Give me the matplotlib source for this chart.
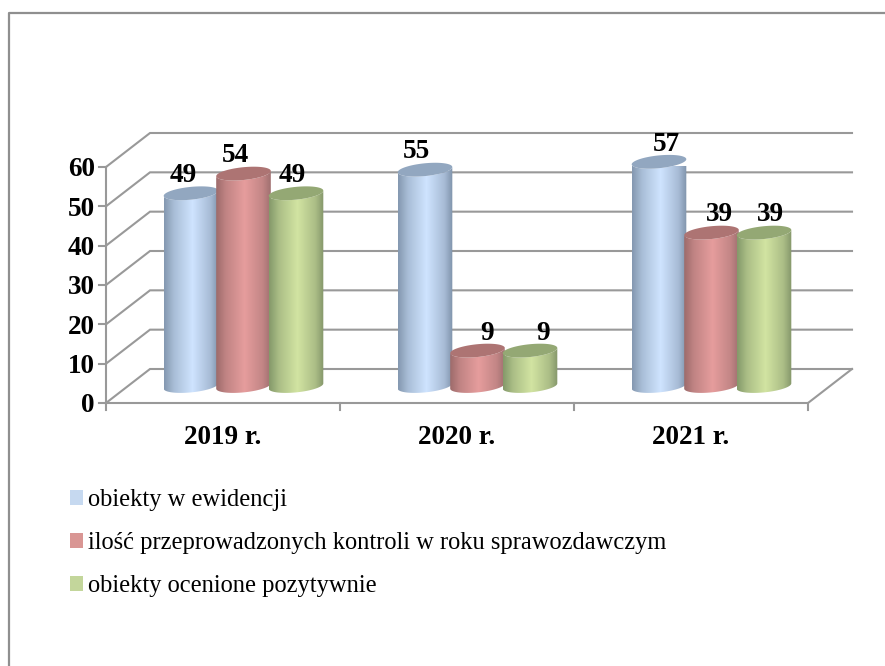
import numpy as np
import matplotlib
matplotlib.use("Agg")
import matplotlib.pyplot as plt
from matplotlib.colors import LinearSegmentedColormap
from matplotlib.lines import Line2D
from matplotlib.patches import Patch, PathPatch
from matplotlib.path import Path

categories = ["2019 r.", "2020 r.", "2021 r."]
series_names = ["obiekty w ewidencji",
                "ilość przeprowadzonych kontroli w roku sprawozdawczym",
                "obiekty ocenione pozytywnie"]
ewidencja = [49, 55, 57]
kontrole = [54, 9, 39]
pozytywne = [49, 9, 39]
y_ticks = [0, 10, 20, 30, 40, 50, 60]

W, H, DPI = 885, 666, 100
L, R, B, T = 106, 808, 403, 167       # front plot box in pixels
DX, DY = 44, 34                       # depth offset of the back wall in pixels
plt.rcParams["font.family"] = ["Liberation Serif", "DejaVu Serif"]

fig = plt.figure(figsize=(W / DPI, H / DPI), dpi=DPI, facecolor="white")
ax = fig.add_axes([L / W, 1 - B / H, (R - L) / W, (B - T) / H])
ax.set_xlim(0, 3)
ax.set_ylim(0, 60)
ax.axis("off")
px = 3 / (R - L)      # data x per pixel
py = 60 / (B - T)     # data y per pixel
ddx, ddy = DX * px, DY * py
GRID = "#999999"
BOLD = 19.5

# outer chart frame: only top and left edges are visible
fig.add_artist(Line2D([8.5 / W, 8.5 / W, 1], [0, 1 - 13 / H, 1 - 13 / H],
                      color="#8f8f8f", lw=1.6, transform=fig.transFigure))

# walls, floor, ticks
for v in y_ticks:
    ax.plot([0, ddx, 3 + ddx], [v, v + ddy, v + ddy], color=GRID, lw=1.5,
            clip_on=False, solid_joinstyle="miter", zorder=1)
    ax.plot([-7 * px, 0], [v, v], color=GRID, lw=1.5, clip_on=False, zorder=1)
    ax.text(-11 * px, v, str(v), ha="right", va="center_baseline",
            fontsize=BOLD, fontweight="bold", color="black")
ax.plot([0, 0], [0, 60], color=GRID, lw=1.5, clip_on=False, zorder=1)
ax.plot([0, 3, 3 + ddx], [0, 0, ddy], color=GRID, lw=1.5, clip_on=False, zorder=1)
for i in range(4):
    ax.plot([i, i], [0, -7 * py], color=GRID, lw=1.5, clip_on=False, zorder=1)
for i, c in enumerate(categories):
    ax.text(i + 0.5, -32 * py, c, ha="center", va="center_baseline",
            fontsize=BOLD, fontweight="bold", color="black")

# cylinders
palettes = [("#8498b0", "#cfe4ff", "#7f93ab", "#92a7c0"),
            ("#9d6b6b", "#e69d9d", "#a07070", "#ad7473"),
            ("#84996a", "#d2e4a2", "#84966a", "#94a874")]
series = [ewidencja, kontrole, pozytywne]
BAR = 52.5 * px
A, BH, K = 27.3 * px, 6.4 * py, 2.6 * py   # ellipse half-width, half-height, tilt


def ellipse(cx, cy, t):
    return cx + A * np.cos(t), cy + BH * np.sin(t) + K * np.cos(t)


def blend(c1, c2):
    return "#" + "".join(
        f"{(int(c1[i:i+2], 16) + int(c2[i:i+2], 16)) // 2:02x}" for i in (1, 3, 5))


t_low = np.linspace(np.pi, 2 * np.pi, 60)
base = 0.5 * ddy
zo = 3
for g in range(3):
    for s, vals in enumerate(series):
        cx = g + 0.5 + 0.5 * ddx + (s - 1) * BAR - 1.5 * px
        v = vals[g]
        edge_l, mid, edge_r, top = palettes[s]
        cmap = LinearSegmentedColormap.from_list(
            "c", [(0, edge_l), (0.18, blend(edge_l, mid)), (0.52, mid),
                  (0.85, blend(edge_r, mid)), (1, edge_r)])
        xb, yb = ellipse(cx, base, t_low)
        xt, yt = ellipse(cx, base + v, t_low[::-1])
        verts = np.column_stack([np.r_[xb, xt], np.r_[yb, yt]])
        body = PathPatch(Path(np.vstack([verts, verts[0]])), transform=ax.transData,
                         fc="none", ec="none")
        ax.add_patch(body)
        im = ax.imshow(np.linspace(0, 1, 128)[None, :], cmap=cmap, aspect="auto",
                       extent=[cx - A, cx + A, base - 10 * py, base + v + 10 * py],
                       zorder=zo)
        im.set_clip_path(body)
        im.set_clip_box(None)
        xe, ye = ellipse(cx, base + v, np.linspace(0, 2 * np.pi, 120))
        ax.fill(xe, ye, color=top, lw=0, zorder=zo + 0.5, clip_on=False)
        zo += 1
ax.set_xlim(0, 3)
ax.set_ylim(0, 60)

# data labels, with the manual placements of the original
nudges = [[(-8, 21), (-8, 21), (-4, 21)],
          [(-9, 21), (10, 20), (13, 20)],
          [(7, 20), (8, 21), (6, 21)]]
for g in range(3):
    for s, vals in enumerate(series):
        cx = g + 0.5 + 0.5 * ddx + (s - 1) * BAR - 1.5 * px
        nx, ny = nudges[g][s]
        ax.annotate(str(vals[g]), (cx, base + vals[g]),
                    xytext=(nx * 72 / DPI, ny * 72 / DPI), textcoords="offset points",
                    ha="center", va="center_baseline", fontsize=BOLD, fontweight="bold",
                    color="black", zorder=100, annotation_clip=False)

# legend
colors = ["#c6d9f0", "#d99694", "#c3d69b"]
handles = [Patch(fc=c, ec="none", label=n) for c, n in zip(colors, series_names)]
fig.legend(handles=handles, loc="upper left", bbox_to_anchor=(70 / W, 1 - 489 / H),
           frameon=False, fontsize=17.65, handlelength=0.53, handleheight=0.53,
           handletextpad=0.2, labelspacing=0.86, borderpad=0, borderaxespad=0,
           labelcolor="black")

fig.savefig("out.png", dpi=DPI, facecolor="white")
